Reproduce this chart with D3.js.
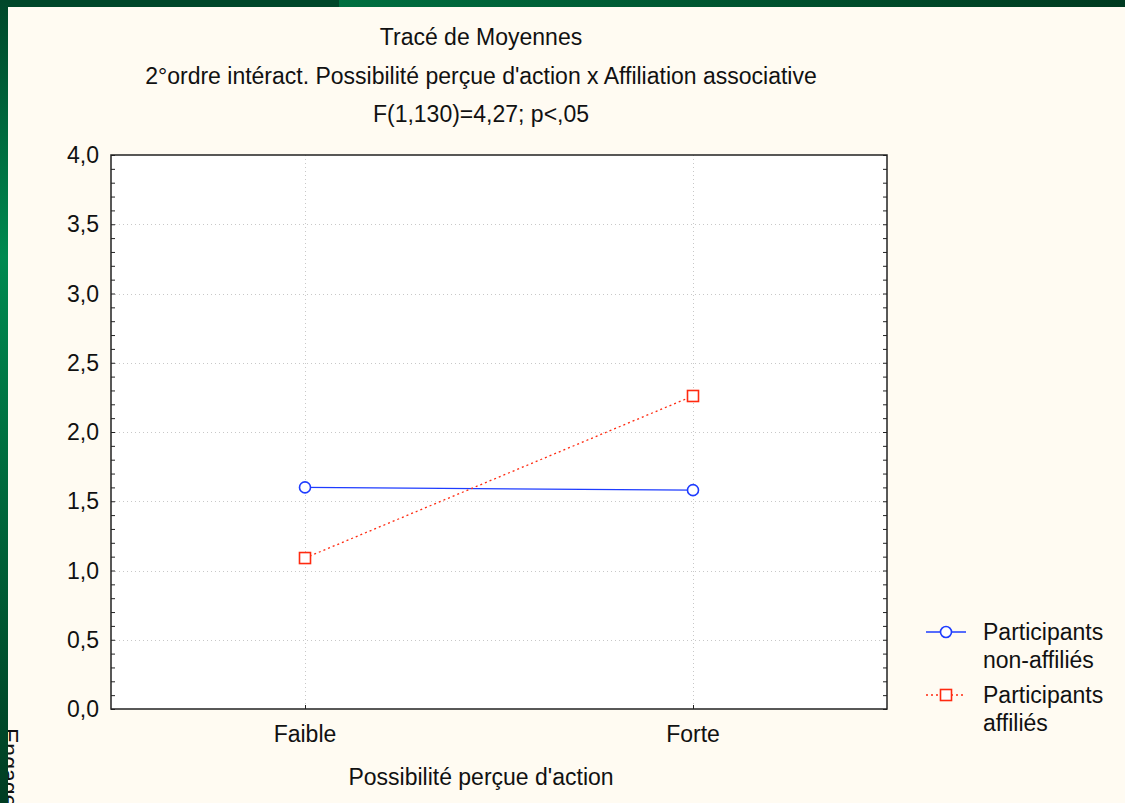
<!DOCTYPE html>
<html>
<head>
<meta charset="utf-8">
<script src="https://cdn.jsdelivr.net/npm/d3@7"></script>
<style>
  html, body { margin: 0; padding: 0; background: #fffbf2; }
  svg { display: block; font-family: "Liberation Sans", Arial, sans-serif; }
</style>
</head>
<body>
<svg id="chart" width="1125" height="803"></svg>
<script>
// Interaction plot of means
const categories = ["Faible", "Forte"];
const seriesNames = ["Participants non-affiliés", "Participants affiliés"];
const legendLines = [["Participants", "non-affiliés"], ["Participants", "affiliés"]];
const nonAffilies = [1.60, 1.58];
const affilies = [1.09, 2.26];
const yTicks = [0, 0.5, 1, 1.5, 2, 2.5, 3, 3.5, 4];
const titleLines = [
  "Tracé de Moyennes",
  "2°ordre intéract. Possibilité perçue d'action x Affiliation associative",
  "F(1,130)=4,27; p<,05"
];
const xTitle = "Possibilité perçue d'action";
const yTitle = "Engagement";

const svg = d3.select("#chart");
const W = 1125, H = 803;
const plot = { left: 111, right: 887, top: 155, bottom: 709 };
const FS = 23;

svg.append("rect").attr("x", 0).attr("y", 0).attr("width", W).attr("height", H).attr("fill", "#fffbf2");

// Y-axis title, running down the left edge under the frame band
svg.append("text").attr("transform", "translate(1,728) rotate(90)")
  .attr("font-size", FS).attr("fill", "#111").text(yTitle);

// Frame bands
const defs = svg.append("defs");
const gLeft = defs.append("linearGradient").attr("id", "gLeft").attr("x1", 0).attr("y1", 0).attr("x2", 0).attr("y2", 1);
gLeft.append("stop").attr("offset", "0%").attr("stop-color", "#00472a");
gLeft.append("stop").attr("offset", "32%").attr("stop-color", "#008a50");
gLeft.append("stop").attr("offset", "100%").attr("stop-color", "#003d22");
const gTop = defs.append("linearGradient").attr("id", "gTop").attr("x1", 0).attr("y1", 0).attr("x2", 1).attr("y2", 0);
gTop.append("stop").attr("offset", "0%").attr("stop-color", "#006f40");
gTop.append("stop").attr("offset", "100%").attr("stop-color", "#003a20");

svg.append("rect").attr("x", 0).attr("y", 0).attr("width", 339).attr("height", 7).attr("fill", "#00472a");
svg.append("rect").attr("x", 339).attr("y", 0).attr("width", W - 339).attr("height", 7).attr("fill", "url(#gTop)");
svg.append("rect").attr("x", 0).attr("y", 0).attr("width", 8).attr("height", H).attr("fill", "url(#gLeft)");

// Scales
const x = d3.scalePoint().domain(categories).range([plot.left, plot.right]).padding(0.5);
const y = d3.scaleLinear().domain([0, 4]).range([plot.bottom, plot.top]);

// Plot area
svg.append("rect")
  .attr("x", plot.left).attr("y", plot.top)
  .attr("width", plot.right - plot.left).attr("height", plot.bottom - plot.top)
  .attr("fill", "#ffffff");

// Grid
const grid = svg.append("g").attr("stroke", "#c8c8c8").attr("stroke-width", 1).attr("stroke-dasharray", "1,3");
grid.selectAll("line.h").data(yTicks.filter(d => d > 0 && d < 4)).join("line")
  .attr("x1", plot.left).attr("x2", plot.right)
  .attr("y1", d => Math.round(y(d)) + 0.5).attr("y2", d => Math.round(y(d)) + 0.5);
grid.selectAll("line.v").data(categories).join("line")
  .attr("x1", d => Math.round(x(d)) + 0.5).attr("x2", d => Math.round(x(d)) + 0.5)
  .attr("y1", plot.top).attr("y2", plot.bottom);

// Axes: ticks pointing inward, minor ticks every 0.1
const minor = d3.range(0, 41).map(i => i / 10);
const yLeft = d3.axisRight(y).tickValues(minor).tickSize(4).tickFormat("");
const yRight = d3.axisLeft(y).tickValues(minor).tickSize(4).tickFormat("");
svg.append("g").attr("transform", `translate(${plot.left},0)`).call(yLeft)
  .call(g => g.select(".domain").remove())
  .selectAll("line").attr("stroke", "#222");
svg.append("g").attr("transform", `translate(${plot.right},0)`).call(yRight)
  .call(g => g.select(".domain").remove())
  .selectAll("line").attr("stroke", "#222");
svg.append("g").attr("transform", `translate(0,${plot.bottom})`)
  .call(d3.axisTop(x).tickSize(4).tickFormat(""))
  .call(g => g.select(".domain").remove())
  .selectAll("line").attr("stroke", "#222");

// Frame
svg.append("rect")
  .attr("x", plot.left).attr("y", plot.top)
  .attr("width", plot.right - plot.left).attr("height", plot.bottom - plot.top)
  .attr("fill", "none").attr("stroke", "#222").attr("stroke-width", 1.5);

// Tick labels
const fmt = d => d3.format(".1f")(d).replace(".", ",");
svg.append("g").selectAll("text").data(yTicks).join("text")
  .attr("x", 99).attr("y", d => y(d)).attr("dy", "0.35em")
  .attr("text-anchor", "end").attr("font-size", FS).attr("fill", "#111")
  .text(fmt);
svg.append("g").selectAll("text").data(categories).join("text")
  .attr("x", d => x(d)).attr("y", 742)
  .attr("text-anchor", "middle").attr("font-size", FS).attr("fill", "#111")
  .text(d => d);

// Titles
svg.append("g").selectAll("text").data(titleLines).join("text")
  .attr("x", 481).attr("y", (d, i) => 45 + i * 38.5)
  .attr("text-anchor", "middle").attr("font-size", FS).attr("fill", "#111")
  .text(d => d);
svg.append("text").attr("x", 481).attr("y", 785)
  .attr("text-anchor", "middle").attr("font-size", FS).attr("fill", "#111").text(xTitle);

// Series
const colors = ["#1e3cff", "#ff2a10"];
const dashes = [null, "2,3"];
const data = [nonAffilies, affilies];
const line = d3.line().x((d, i) => x(categories[i])).y(d => y(d));
data.forEach((vals, s) => {
  svg.append("path").datum(vals).attr("d", line)
    .attr("fill", "none").attr("stroke", colors[s]).attr("stroke-width", 1.3)
    .attr("stroke-dasharray", dashes[s]);
});
svg.append("g").selectAll("circle").data(nonAffilies).join("circle")
  .attr("cx", (d, i) => x(categories[i])).attr("cy", d => y(d)).attr("r", 5.5)
  .attr("fill", "#fff").attr("stroke", colors[0]).attr("stroke-width", 1.6);
svg.append("g").selectAll("rect").data(affilies).join("rect")
  .attr("x", (d, i) => x(categories[i]) - 5.5).attr("y", d => y(d) - 5.5)
  .attr("width", 11).attr("height", 11)
  .attr("fill", "#fff").attr("stroke", colors[1]).attr("stroke-width", 1.6);

// Legend
const legend = svg.append("g");
const legY = [632, 695];
seriesNames.forEach((name, s) => {
  const g = legend.append("g").attr("transform", `translate(0,${legY[s]})`);
  g.append("line").attr("x1", 926).attr("x2", 966).attr("y1", 0).attr("y2", 0)
    .attr("stroke", colors[s]).attr("stroke-width", 1.3).attr("stroke-dasharray", dashes[s]);
  if (s === 0) {
    g.append("circle").attr("cx", 946).attr("cy", 0).attr("r", 5.5)
      .attr("fill", "#fff").attr("stroke", colors[s]).attr("stroke-width", 1.6);
  } else {
    g.append("rect").attr("x", 940.5).attr("y", -5.5).attr("width", 11).attr("height", 11)
      .attr("fill", "#fff").attr("stroke", colors[s]).attr("stroke-width", 1.6);
  }
  legendLines[s].forEach((t, k) => {
    g.append("text").attr("x", 983).attr("y", 8 + k * 28)
      .attr("font-size", FS).attr("fill", "#111").text(t);
  });
});
</script>
</body>
</html>
